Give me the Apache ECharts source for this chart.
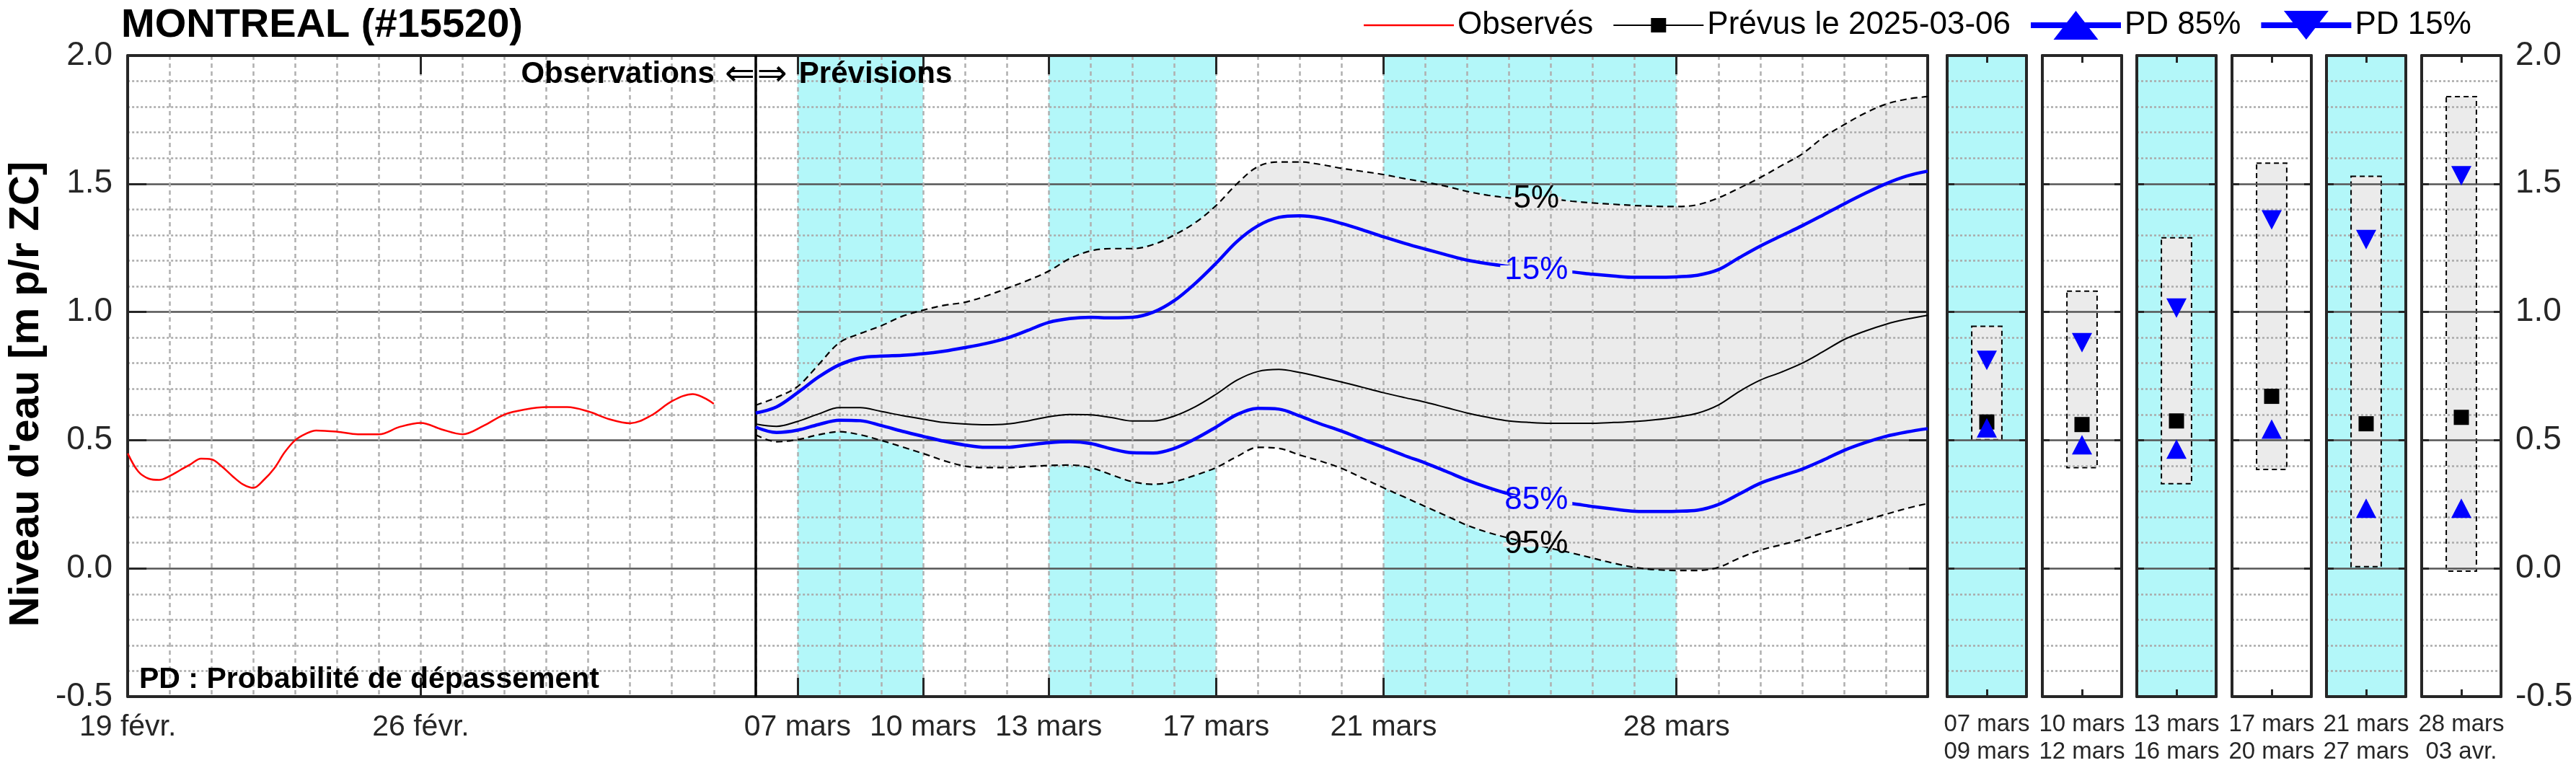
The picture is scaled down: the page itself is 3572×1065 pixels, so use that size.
<!DOCTYPE html>
<html><head><meta charset="utf-8">
<script src="https://cdn.jsdelivr.net/npm/echarts@6/dist/echarts.min.js"></script>
<style>html,body{margin:0;padding:0;background:#fff}#c{width:3572px;height:1065px}</style>
</head><body><div id="c"></div>
<script>
// ---------- DATA ----------
// x = days since 19 févr. 2025
const tickDays = [0, 7, 16, 19, 22, 26, 30, 37];
const tickLabels = ['19 févr.', '26 févr.', '07 mars', '10 mars', '13 mars', '17 mars', '21 mars', '28 mars'];
const splitDay = 15;
const bandStart = [16, 22, 30];
const bandEnd = [19, 26, 37];

const obsDays = [0,0.25,0.5,0.75,1,1.25,1.5,1.75,2,2.25,2.5,2.75,3,3.25,3.5,3.75,4,4.25,4.5,5,5.5,6,6.5,7,7.5,8,8.5,9,9.5,10,10.5,11,11.5,12,12.5,13,13.5,14];
const obsLevel = [0.448,0.378,0.35,0.345,0.36,0.383,0.406,0.428,0.425,0.397,0.36,0.328,0.314,0.345,0.39,0.453,0.50,0.525,0.538,0.533,0.523,0.523,0.552,0.567,0.542,0.523,0.556,0.60,0.62,0.629,0.629,0.612,0.582,0.566,0.596,0.652,0.68,0.642];

const fcDays = [15,15.5,16,16.5,17,17.5,18,18.5,19,19.5,20,20.5,21,21.5,22,22.5,23,23.5,24,24.5,25,25.5,26,26.5,27,27.5,28,28.5,29,29.5,30,30.5,31,31.5,32,32.5,33,33.5,34,34.5,35,35.5,36,36.5,37,37.5,38,38.5,39,39.5,40,40.5,41,41.5,42,42.5,43];
const fcP05 = [0.636,0.667,0.709,0.794,0.88,0.916,0.946,0.983,1.007,1.026,1.038,1.062,1.092,1.123,1.159,1.208,1.238,1.247,1.247,1.263,1.30,1.348,1.415,1.50,1.567,1.585,1.585,1.575,1.56,1.548,1.536,1.52,1.506,1.49,1.47,1.455,1.445,1.442,1.44,1.432,1.425,1.42,1.415,1.412,1.411,1.418,1.445,1.483,1.524,1.57,1.616,1.68,1.73,1.775,1.81,1.83,1.84];
const fcP15 = [0.606,0.63,0.685,0.746,0.794,0.821,0.828,0.831,0.837,0.847,0.861,0.877,0.898,0.928,0.959,0.974,0.979,0.977,0.979,0.999,1.044,1.111,1.19,1.275,1.336,1.369,1.375,1.366,1.345,1.32,1.293,1.268,1.245,1.223,1.202,1.188,1.177,1.165,1.16,1.156,1.147,1.14,1.135,1.135,1.137,1.143,1.165,1.212,1.257,1.297,1.336,1.378,1.421,1.462,1.50,1.53,1.549];
const fcP50 = [0.563,0.554,0.573,0.602,0.627,0.627,0.612,0.596,0.582,0.569,0.563,0.56,0.563,0.575,0.591,0.60,0.599,0.588,0.575,0.575,0.594,0.63,0.679,0.734,0.768,0.776,0.764,0.746,0.727,0.706,0.685,0.666,0.648,0.627,0.606,0.589,0.575,0.569,0.566,0.566,0.566,0.569,0.573,0.58,0.59,0.605,0.637,0.69,0.734,0.765,0.80,0.845,0.892,0.925,0.952,0.972,0.987];
const fcP85 = [0.551,0.53,0.539,0.561,0.578,0.576,0.557,0.535,0.515,0.496,0.481,0.472,0.472,0.481,0.49,0.494,0.487,0.466,0.451,0.45,0.468,0.505,0.551,0.60,0.624,0.621,0.594,0.563,0.535,0.503,0.472,0.44,0.411,0.378,0.344,0.315,0.29,0.272,0.26,0.253,0.241,0.231,0.223,0.222,0.223,0.227,0.249,0.29,0.332,0.36,0.387,0.422,0.46,0.49,0.515,0.532,0.545];
const fcP95 = [0.521,0.494,0.502,0.521,0.533,0.521,0.499,0.474,0.448,0.42,0.399,0.393,0.393,0.397,0.401,0.403,0.393,0.365,0.338,0.328,0.338,0.363,0.393,0.436,0.472,0.468,0.442,0.418,0.39,0.352,0.314,0.278,0.241,0.205,0.168,0.14,0.118,0.098,0.078,0.06,0.04,0.02,0.004,-0.005,-0.008,-0.008,0.004,0.04,0.071,0.092,0.113,0.138,0.162,0.187,0.211,0.234,0.253];

const pctLabelDay = 33.65;
const pctLabelText = ['5%', '15%', '85%', '95%'];
const pctLabelValue = [1.441, 1.162, 0.266, 0.093];

const panelFrom = ['07 mars', '10 mars', '13 mars', '17 mars', '21 mars', '28 mars'];
const panelTo = ['09 mars', '12 mars', '16 mars', '20 mars', '27 mars', '03 avr.'];
const panelHigh = [0.944, 1.081, 1.289, 1.58, 1.529, 1.84];
const panelLow = [0.502, 0.393, 0.33, 0.386, 0.007, -0.011];
const panelMed = [0.571, 0.561, 0.575, 0.671, 0.564, 0.589];
const panelP15 = [0.811, 0.88, 1.015, 1.359, 1.282, 1.531];
const panelP85 = [0.548, 0.482, 0.465, 0.543, 0.235, 0.235];

const yMin = -0.5, yMax = 2.0, yStep = 0.5;
const xMin = 0, xMax = 43;

// ---------- STYLE / LAYOUT ----------
const FONT = '"Liberation Sans", Arial, Helvetica, sans-serif';
const AX = '#262626';
const CYAN = '#b3f7f9';
const FILL = '#ebebeb';
const BLUE = '#0000ff';
const RED = '#ff0000';
const SM = 0.35;
const mainGrid = {left: 168, top: 77, width: 2505, height: 889};
const panelLeft = [2700, 2832, 2963, 3095, 3226, 3358];
const panelW = 110;
const panelCyan = [true, false, true, false, true, false];
const panelCenter = 0.5, boxHalf = 0.19;

const chart = echarts.init(document.getElementById('c'), null, {renderer: 'canvas', width: 3572, height: 1065});

const axLine = {show: true, onZero: false, lineStyle: {color: AX, width: 4}};
const grids = [mainGrid];
panelLeft.forEach((l, i) => grids.push({left: l, top: mainGrid.top, width: panelW, height: mainGrid.height,
  show: panelCyan[i], backgroundColor: CYAN, borderWidth: 0}));

const xAxes = [
  {gridIndex: 0, type: 'value', min: xMin, max: xMax, interval: 1, position: 'bottom', z: 3,
   axisLine: axLine,
   axisTick: {show: true, inside: true, length: 26, customValues: tickDays, lineStyle: {color: AX, width: 3}},
   axisLabel: {customValues: tickDays, margin: 22, fontSize: 41, color: AX, fontFamily: FONT,
     formatter: v => { const k = tickDays.indexOf(v); return k >= 0 ? tickLabels[k] : ''; }},
   splitLine: {show: false}},
  {gridIndex: 0, type: 'value', min: xMin, max: xMax, interval: 1, position: 'top', z: 3,
   axisLine: axLine,
   axisTick: {show: true, inside: true, length: 26, customValues: tickDays, lineStyle: {color: AX, width: 3}},
   axisLabel: {show: false}, splitLine: {show: false}}
];
const yAxes = [
  {gridIndex: 0, type: 'value', min: yMin, max: yMax, interval: yStep, position: 'left', z: 3,
   axisLine: axLine,
   axisTick: {show: true, inside: true, length: 26, lineStyle: {color: AX, width: 3}},
   axisLabel: {margin: 21, fontSize: 46, color: AX, fontFamily: FONT, formatter: v => v.toFixed(1)},
   splitLine: {show: true, lineStyle: {color: '#555555', width: 2.5}},
   minorTick: {show: false, splitNumber: 5},
   minorSplitLine: {show: true, lineStyle: {color: '#aaaaaa', width: 2.5, type: [3, 3]}},
   name: "Niveau d'eau [m p/r ZC]", nameLocation: 'middle', nameRotate: 90, nameGap: 111,
   nameTextStyle: {fontSize: 58, fontWeight: 'bold', color: '#000', fontFamily: FONT, padding: [0, 50, 0, 0]}},
  {gridIndex: 0, type: 'value', min: yMin, max: yMax, interval: yStep, position: 'right', z: 3,
   axisLine: axLine,
   axisTick: {show: true, inside: true, length: 26, lineStyle: {color: AX, width: 3}},
   axisLabel: {show: false}, splitLine: {show: false}}
];
panelLeft.forEach((l, i) => {
  const g = i + 1;
  xAxes.push({gridIndex: g, type: 'value', min: 0, max: 1, position: 'bottom', z: 3, axisLine: axLine,
    axisTick: {show: true, inside: true, length: 10, customValues: [panelCenter], lineStyle: {color: AX, width: 3}},
    axisLabel: {customValues: [panelCenter], margin: 20, fontSize: 33, lineHeight: 38, color: AX, fontFamily: FONT,
      formatter: () => panelFrom[i] + '\n' + panelTo[i]},
    splitLine: {show: false}});
  xAxes.push({gridIndex: g, type: 'value', min: 0, max: 1, position: 'top', z: 3, axisLine: axLine,
    axisTick: {show: true, inside: true, length: 10, customValues: [panelCenter], lineStyle: {color: AX, width: 3}},
    axisLabel: {show: false}, splitLine: {show: false}});
  yAxes.push({gridIndex: g, type: 'value', min: yMin, max: yMax, interval: yStep, position: 'left', z: 3, axisLine: axLine,
    axisTick: {show: true, inside: true, length: 10, lineStyle: {color: AX, width: 3}},
    axisLabel: {show: false},
    splitLine: {show: true, lineStyle: {color: '#555555', width: 2.5}},
    minorTick: {show: false, splitNumber: 5},
    minorSplitLine: {show: true, lineStyle: {color: '#aaaaaa', width: 2.5, type: [3, 3]}}});
  yAxes.push({gridIndex: g, type: 'value', min: yMin, max: yMax, interval: yStep, position: 'right', z: 3, axisLine: axLine,
    axisTick: {show: true, inside: true, length: 10, lineStyle: {color: AX, width: 3}},
    axisLabel: {show: i === panelLeft.length - 1, margin: 20, fontSize: 46, color: AX, fontFamily: FONT, formatter: v => v.toFixed(1)},
    splitLine: {show: false}});
});
// daily vertical grid for main panel (own axis so it is not tied to the labelled ticks)
xAxes.push({gridIndex: 0, type: 'value', min: xMin, max: xMax, interval: 1, position: 'bottom', z: 3,
  axisLine: {show: false}, axisTick: {show: false}, axisLabel: {show: false},
  splitLine: {show: true, lineStyle: {color: '#b0b0b0', width: 2.5, type: [6, 5]}}});

const series = [];
// cyan bands
series.push({type: 'custom', name: 'bands', xAxisIndex: 0, yAxisIndex: 0, z: 1, silent: true,
  data: bandStart.map((s, i) => [s, bandEnd[i]]),
  renderItem: (params, api) => {
    const a = api.coord([api.value(0), yMax]);
    const b = api.coord([api.value(1), yMin]);
    return {type: 'rect', shape: {x: a[0], y: a[1], width: b[0] - a[0], height: b[1] - a[1]}, style: {fill: CYAN}};
  }});
// envelope fill 5%-95% (value stored first so that stacking acts on y)
series.push({type: 'line', name: 'envLow', xAxisIndex: 0, yAxisIndex: 0, z: 2, silent: true,
  data: fcDays.map((d, i) => [fcP95[i], d]), encode: {x: 1, y: 0}, stack: 'env', stackStrategy: 'all',
  symbol: 'none', smooth: SM, lineStyle: {opacity: 0}});
series.push({type: 'line', name: 'envBand', xAxisIndex: 0, yAxisIndex: 0, z: 2, silent: true,
  data: fcDays.map((d, i) => [fcP05[i] - fcP95[i], d]), encode: {x: 1, y: 0}, stack: 'env', stackStrategy: 'all',
  symbol: 'none', smooth: SM, lineStyle: {opacity: 0}, areaStyle: {color: FILL, opacity: 1}});

function pctMark(k, color, w, h) {
  return {z: 7, silent: true, symbol: 'rect', symbolSize: [w, h], itemStyle: {color: FILL},
    label: {show: true, position: 'inside', formatter: pctLabelText[k], fontSize: 44, color: color, fontFamily: FONT},
    data: [{coord: [pctLabelDay, pctLabelValue[k]]}]};
}
function fcLine(name, arr, color, width, type, z, mark) {
  const s = {type: 'line', name: name, xAxisIndex: 0, yAxisIndex: 0, z: z, color: color,
    data: fcDays.map((d, i) => [d, arr[i]]), symbol: 'none', smooth: SM,
    lineStyle: {color: color, width: width, type: type}};
  if (mark) s.markPoint = mark;
  return s;
}
series.push(fcLine('p05', fcP05, '#000', 2.2, [9, 6], 5, pctMark(0, '#000', 70, 6)));
series.push(fcLine('p95', fcP95, '#000', 2.2, [9, 6], 5, pctMark(3, '#000', 92, 6)));
series.push(fcLine('Prévus le 2025-03-06', fcP50, '#000', 2, 'solid', 5));
series.push(fcLine('PD 15%', fcP15, BLUE, 4.5, 'solid', 6, pctMark(1, BLUE, 100, 14)));
series.push(fcLine('PD 85%', fcP85, BLUE, 4.5, 'solid', 6, pctMark(2, BLUE, 100, 14)));
// observed
series.push({type: 'line', name: 'Observés', xAxisIndex: 0, yAxisIndex: 0, z: 5, color: RED,
  data: obsDays.map((d, i) => [d, obsLevel[i]]), symbol: 'none', smooth: SM,
  lineStyle: {color: RED, width: 2.5},
  markLine: {silent: true, z: 6, symbol: ['none', 'none'], label: {show: false},
    lineStyle: {color: '#000', width: 3.5, type: 'solid'}, data: [{xAxis: splitDay}]}});

// panels
panelLeft.forEach((l, i) => {
  const xi = 2 + 2 * i, yi = 2 + 2 * i;
  series.push({type: 'custom', name: 'box' + i, xAxisIndex: xi, yAxisIndex: yi, z: 2, silent: true,
    data: [[panelCenter, panelLow[i], panelHigh[i]]],
    renderItem: (params, api) => {
      const a = api.coord([api.value(0) - boxHalf, api.value(2)]);
      const b = api.coord([api.value(0) + boxHalf, api.value(1)]);
      return {type: 'rect', shape: {x: a[0], y: a[1], width: b[0] - a[0], height: b[1] - a[1]},
        style: {fill: FILL, stroke: '#000', lineWidth: 2, lineDash: [7, 5]}};
    }});
  series.push({type: 'scatter', name: 'med' + i, xAxisIndex: xi, yAxisIndex: yi, z: 6, silent: true,
    data: [[panelCenter, panelMed[i]]], symbol: 'rect', symbolSize: [21, 21], itemStyle: {color: '#000', opacity: 1}});
  series.push({type: 'scatter', name: 'p15_' + i, xAxisIndex: xi, yAxisIndex: yi, z: 6, silent: true,
    data: [[panelCenter, panelP15[i]]], symbol: 'triangle', symbolRotate: 180, symbolSize: [28, 27], itemStyle: {color: BLUE, opacity: 1}});
  series.push({type: 'scatter', name: 'p85_' + i, xAxisIndex: xi, yAxisIndex: yi, z: 6, silent: true,
    data: [[panelCenter, panelP85[i]]], symbol: 'triangle', symbolSize: [28, 27], itemStyle: {color: BLUE, opacity: 1}});
});

const option = {
  animation: false,
  backgroundColor: '#ffffff',
  textStyle: {fontFamily: FONT},
  grid: grids, xAxis: xAxes, yAxis: yAxes, series: series,
  legend: {left: 1886, top: 8, itemWidth: 125, itemHeight: 40, itemGap: 28, symbolKeepAspect: true,
    selectedMode: false, itemStyle: {borderWidth: 0},
    textStyle: {fontSize: 44, color: '#000', fontFamily: FONT},
    data: [
      {name: 'Observés', icon: 'path://M0,0 L125,0 L125,2.5 L0,2.5 Z'},
      {name: 'Prévus le 2025-03-06', icon: 'path://M0,9 L125,9 L125,11 L0,11 Z M52,0 L73,0 L73,20 L52,20 Z'},
      {name: 'PD 85%', icon: 'path://M0,16 L125,16 L125,24 L0,24 Z M62.5,0 L93.5,40 L31.5,40 Z'},
      {name: 'PD 15%', icon: 'path://M0,16 L125,16 L125,24 L0,24 Z M31.5,0 L93.5,0 L62.5,40 Z'}
    ]},
  graphic: [
    {type: 'text', x: 168, y: 36, z: 10, style: {text: 'MONTREAL (#15520)', fill: '#000', font: 'bold 56px ' + FONT, textAlign: 'left', textVerticalAlign: 'middle', align: 'left', verticalAlign: 'middle'}},
    {type: 'text', x: 193, y: 943, z: 10, style: {text: 'PD : Probabilité de dépassement', fill: '#000', font: 'bold 41px ' + FONT, textAlign: 'left', textVerticalAlign: 'middle', align: 'left', verticalAlign: 'middle'}}
  ]
};
chart.setOption(option);

// annotation anchored on the obs/forecast split line
const sp = chart.convertToPixel({xAxisIndex: 0, yAxisIndex: 0}, [splitDay, 1.927]);
chart.setOption({graphic: option.graphic.concat([
  {type: 'text', x: sp[0] - 57, y: sp[1], z: 10, style: {text: 'Observations', fill: '#000', font: 'bold 42px ' + FONT, textAlign: 'right', textVerticalAlign: 'middle', align: 'right', verticalAlign: 'middle'}},
  {type: 'text', x: sp[0] - 1, y: sp[1] + 2, z: 10, style: {text: '⇐', fill: '#000', font: '50px "DejaVu Sans"', textAlign: 'right', textVerticalAlign: 'middle', align: 'right', verticalAlign: 'middle'}},
  {type: 'text', x: sp[0] + 2, y: sp[1] + 2, z: 10, style: {text: '⇒', fill: '#000', font: '50px "DejaVu Sans"', textAlign: 'left', textVerticalAlign: 'middle', align: 'left', verticalAlign: 'middle'}},
  {type: 'text', x: sp[0] + 60, y: sp[1], z: 10, style: {text: 'Prévisions', fill: '#000', font: 'bold 42px ' + FONT, textAlign: 'left', textVerticalAlign: 'middle', align: 'left', verticalAlign: 'middle'}}
])});
</script>
</body></html>
